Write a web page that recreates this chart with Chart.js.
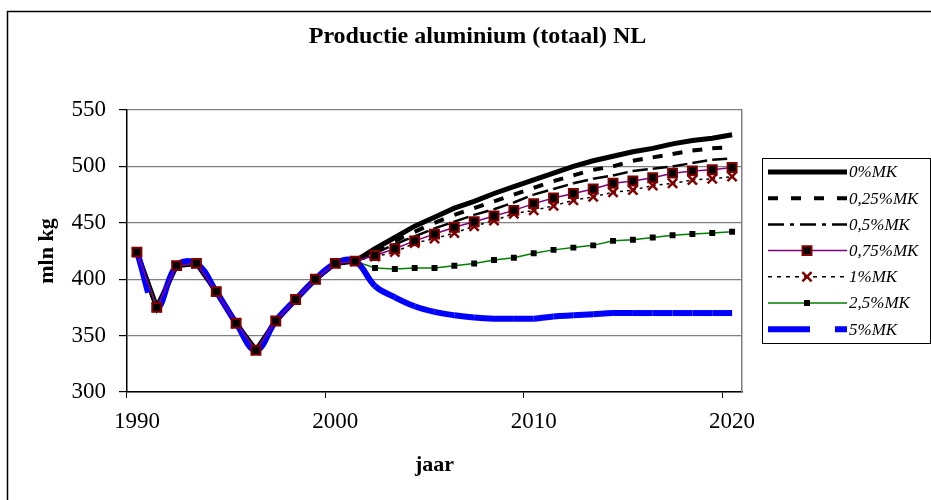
<!DOCTYPE html>
<html>
<head>
<meta charset="utf-8">
<title>Productie aluminium (totaal) NL</title>
<script src="https://cdn.jsdelivr.net/npm/chart.js@4.4.1/dist/chart.umd.min.js"></script>
<style>
  html, body { margin: 0; padding: 0; background: #fff; }
  canvas { display: block; }
</style>
</head>
<body>
<canvas id="chart-alu" width="931" height="500"></canvas>
<script>
// Productie aluminium (totaal) NL: scenario lines 1990-2020

const years = ['1990', '1991', '1992', '1993', '1994', '1995', '1996', '1997', '1998', '1999',
  '2000', '2001', '2002', '2003', '2004', '2005', '2006', '2007', '2008', '2009',
  '2010', '2011', '2012', '2013', '2014', '2015', '2016', '2017', '2018', '2019', '2020'];
const labelYears = ['1990', '2000', '2010', '2020'];

// shared history 1990-2001 (mln kg)
const history = [424, 375, 412, 414, 389, 361, 337, 363, 382, 400, 414, 416];

// scenarios 2002-2020
const mk0   = [427, 437, 447, 455, 463, 469, 476, 482, 488, 494, 500, 505, 509, 513, 516, 520, 523, 525, 528];
const mk025 = [425, 434, 442, 450, 457, 463, 469, 475, 481, 487, 492, 497, 500, 505, 508, 511, 514, 516, 517];
const mk05  = [423, 431, 438, 445, 451, 457, 462, 468, 475, 480, 485, 489, 492, 496, 498, 500, 503, 506, 507];
const mk075 = [421, 427, 434, 440, 446, 451, 456, 461, 467, 472, 476, 480, 485, 487, 490, 494, 496, 497, 499];
const mk1   = [420, 424, 432, 436, 441, 447, 452, 458, 461, 465, 470, 473, 477, 479, 483, 485, 488, 489, 491];
const mk25  = [410, 409, 410, 410, 412, 414, 417, 419, 423, 426, 428, 430, 434, 435, 437, 439, 440, 441, 442];
const mk5   = [394, 384, 376, 371, 368, 366, 365, 365, 365, 367, 368, 369, 370, 370, 370, 370, 370, 370, 370];

const FONT = '"Liberation Serif", "Times New Roman", serif';
Chart.defaults.font.family = FONT;
Chart.defaults.color = '#000';

// Excel restarts the dash pattern on every segment; give each segment its own stroke
const perSegment = { borderDashOffset: ctx => ctx.p0DataIndex * 0.001 };

const noMarker = { pointRadius: 0, pointHoverRadius: 0 };

const datasets = [
  {
    label: '0%MK', data: history.concat(mk0),
    borderColor: '#000', borderWidth: 5, ...noMarker, order: 6,
  },
  {
    label: '0,25%MK', data: history.concat(mk025),
    borderColor: '#000', borderWidth: 4, borderDash: [10, 13], legendDash: [10, 13],
    segment: perSegment, ...noMarker, order: 5,
  },
  {
    label: '0,5%MK', data: history.concat(mk05),
    borderColor: '#000', borderWidth: 2.5, borderDash: [15, 5, 4, 5], legendDash: [16, 6, 4, 6],
    segment: perSegment, ...noMarker, order: 4,
  },
  {
    label: '0,75%MK', data: history.concat(mk075),
    borderColor: '#800080', borderWidth: 1.5,
    pointStyle: 'rect', pointRadius: 6.3, pointBorderWidth: 2,
    pointBackgroundColor: '#000', pointBorderColor: '#800000', order: 0,
  },
  {
    label: '1%MK', data: history.concat(mk1),
    borderColor: '#000', borderWidth: 1.5, borderDash: [3, 4], legendDash: [4, 5],
    segment: perSegment,
    pointStyle: 'crossRot', pointRadius: 6.5, pointBorderWidth: 2.5,
    pointBackgroundColor: '#800000', pointBorderColor: '#800000', order: 3,
  },
  {
    label: '2,5%MK', data: history.concat(mk25),
    borderColor: '#008000', borderWidth: 1.5,
    pointStyle: 'rect', pointRadius: 4.2, pointBorderWidth: 0,
    pointBackgroundColor: '#000', pointBorderColor: '#000', order: 2,
  },
  {
    label: '5%MK', data: history.concat(mk5),
    borderColor: '#0000ff', borderWidth: 6, borderDash: [42, 25], legendDash: [42, 25],
    segment: perSegment, tension: 0.4, ...noMarker, order: 1,
  },
];

// white page and the outer frame (only top and left edges are inside the picture)
const framePlugin = {
  id: 'frame',
  beforeDraw(chart) {
    const ctx = chart.ctx;
    ctx.save();
    ctx.fillStyle = '#fff';
    ctx.fillRect(0, 0, chart.width, chart.height);
    ctx.strokeStyle = '#000';
    ctx.lineWidth = 1.5;
    ctx.beginPath();
    ctx.moveTo(7.5, chart.height);
    ctx.lineTo(7.5, 11.5);
    ctx.lineTo(chart.width, 11.5);
    ctx.stroke();
    ctx.restore();
  }
};

// legend box on the right with real line samples (dash + marker)
const sideLegend = {
  id: 'sideLegend',
  afterDraw(chart) {
    const ctx = chart.ctx;
    ctx.save();
    ctx.strokeStyle = '#000';
    ctx.lineWidth = 1;
    ctx.strokeRect(762.5, 158.5, 168, 185);
    chart.data.datasets.forEach((ds, i) => {
      const y = 172 + i * 26.2;
      ctx.beginPath();
      ctx.setLineDash(ds.legendDash || []);
      ctx.lineDashOffset = 0;
      ctx.strokeStyle = ds.borderColor;
      ctx.lineWidth = ds.borderWidth;
      ctx.moveTo(768, y);
      ctx.lineTo(847, y);
      ctx.stroke();
      ctx.setLineDash([]);
      if (ds.pointRadius) {
        ctx.fillStyle = ds.pointBackgroundColor;
        ctx.strokeStyle = ds.pointBorderColor;
        ctx.lineWidth = ds.pointBorderWidth;
        Chart.helpers.drawPoint(ctx, {
          pointStyle: ds.pointStyle, radius: ds.pointRadius,
          borderWidth: ds.pointBorderWidth, rotation: 0
        }, 807, y);
      }
      ctx.fillStyle = '#000';
      ctx.font = 'italic 17px ' + FONT;
      ctx.textBaseline = 'middle';
      ctx.textAlign = 'left';
      ctx.fillText(ds.label, 849, y + 1);
    });
    ctx.restore();
  }
};

new Chart(document.getElementById('chart-alu').getContext('2d'), {
  type: 'line',
  data: { labels: years, datasets },
  plugins: [framePlugin, sideLegend],
  options: {
    responsive: false,
    animation: false,
    devicePixelRatio: 1,
    layout: { padding: { left: 24, top: 0, right: 0, bottom: 0 } },
    plugins: {
      legend: { display: false },
      tooltip: { enabled: false },
      title: {
        display: true,
        text: 'Productie aluminium (totaal) NL',
        color: '#000',
        font: { size: 24, weight: 'bold', family: FONT },
        padding: { top: 22.6, bottom: 58.6 }
      }
    },
    scales: {
      x: {
        type: 'category',
        offset: true,
        grid: {
          offset: true,
          drawOnChartArea: false,
          tickLength: 6,
          color: ctx => ctx.index % 10 === 0 ? '#000' : 'rgba(0,0,0,0)'
        },
        border: { color: '#000', width: 1.5 },
        ticks: {
          autoSkip: false,
          maxRotation: 0,
          padding: 10,
          font: { size: 23 },
          callback: (v, i) => labelYears.includes(years[i]) ? years[i] : ''
        },
        title: {
          display: true, text: 'jaar',
          font: { size: 22, weight: 'bold' },
          padding: { top: 0, bottom: 21.8 }
        },
        afterFit: s => { s.height = 108; }
      },
      y: {
        min: 300, max: 550,
        grid: { color: '#808080', lineWidth: 1.2, tickColor: '#000', tickLength: 8 },
        border: { color: '#000', width: 1.5 },
        ticks: { stepSize: 50, padding: 13, font: { size: 23 } },
        title: {
          display: true, text: 'mln kg',
          font: { size: 22, weight: 'bold' },
          padding: { top: 9.8, bottom: 0 }
        },
        afterFit: s => { s.width = 103; }
      },
      y2: {
        position: 'right',
        grid: { display: false },
        ticks: { display: false },
        border: { display: true, color: '#808080', width: 1.5 },
        afterFit: s => { s.width = 189; }
      }
    }
  }
});
</script>
</body>
</html>
